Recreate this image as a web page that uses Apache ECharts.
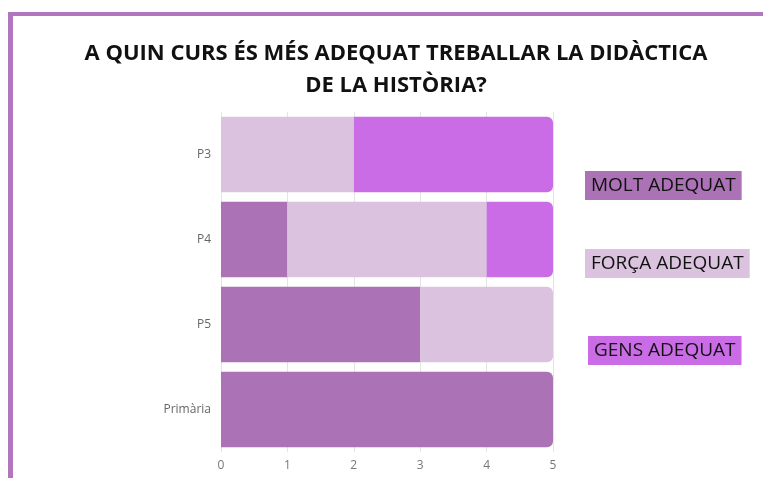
<!DOCTYPE html>
<html>
<head>
<meta charset="utf-8">
<script src="https://cdn.jsdelivr.net/npm/echarts@6/dist/echarts.min.js"></script>
<style>
  html, body { margin: 0; padding: 0; background: #fff; }
  #chart { width: 763px; height: 478px; }
</style>
</head>
<body>
<div id="chart"></div>
<script>
// categories, top to bottom
const cursos = ["P3", "P4", "P5", "Primària"];
const seriesNames = ["MOLT ADEQUAT", "FORÇA ADEQUAT", "GENS ADEQUAT"];
const molt = [0, 1, 3, 5];
const forca = [2, 3, 2, 0];
const gens = [3, 1, 0, 0];
const xTicks = [0, 1, 2, 3, 4, 5];

const colors = ["#ab72b5", "#dbc2df", "#c96ce6"];
const values = [molt, forca, gens];

// round right end of the last non-empty piece of each bar
const lastIdx = cursos.map((c, i) => {
  let k = 0;
  values.forEach((v, s) => { if (v[i] > 0) k = s; });
  return k;
});

const series = values.map((vals, s) => ({
  name: seriesNames[s],
  type: "bar",
  stack: "total",
  barCategoryGap: "11%",
  itemStyle: { color: colors[s] },
  data: vals.map((v, i) => ({
    value: v,
    itemStyle: lastIdx[i] === s ? { borderRadius: [0, 6, 6, 0] } : {},
  })),
}));

// legend boxes sit at slightly uneven spots in the original
const legendPos = [[580, 171], [580, 249], [583, 336]];
const legends = seriesNames.map((n, s) => ({
  left: legendPos[s][0],
  top: legendPos[s][1],
  padding: 0,
  icon: "none",
  itemWidth: 0,
  selectedMode: false,
  textStyle: { fontFamily: "Open Sans", fontSize: 19, color: "#111" },
  data: [{
    name: n,
    textStyle: { backgroundColor: colors[s], padding: [5, 6, 5, 6], lineHeight: 19 },
  }],
}));

var myChart = echarts.init(document.getElementById("chart"));
myChart.setOption({
  animation: false,
  title: {
    text: "A QUIN CURS ÉS MÉS ADEQUAT TREBALLAR LA DIDÀCTICA\nDE LA HISTÒRIA?",
    left: 391,
    textAlign: "center",
    top: 33,
    textStyle: {
      fontFamily: "Open Sans",
      fontWeight: "bold",
      fontSize: 22,
      lineHeight: 32,
      color: "#111",
    },
  },
  grid: { left: 221, right: 210, top: 112, bottom: 26 },
  legend: legends,
  xAxis: {
    type: "value",
    min: 0,
    max: 5,
    interval: 1,
    axisLine: { show: false },
    axisTick: { show: false },
    axisLabel: {
      color: "#777",
      fontFamily: "Open Sans",
      fontSize: 12,
      margin: 8,
      formatter: (v) => (xTicks.includes(v) ? String(v) : ""),
    },
    splitLine: { lineStyle: { color: "#e4e4e4" } },
  },
  yAxis: {
    type: "category",
    inverse: true,
    data: cursos,
    axisLine: { show: false },
    axisTick: { show: false },
    axisLabel: { color: "#666", fontFamily: "Open Sans", fontSize: 12, margin: 10 },
  },
  series: series,
  graphic: [
    { type: "rect", shape: { x: 8, y: 12, width: 755, height: 4 }, style: { fill: "#b176bd" } },
    { type: "rect", shape: { x: 8, y: 12, width: 5, height: 466 }, style: { fill: "#b176bd" } },
  ],
});
</script>
</body>
</html>
